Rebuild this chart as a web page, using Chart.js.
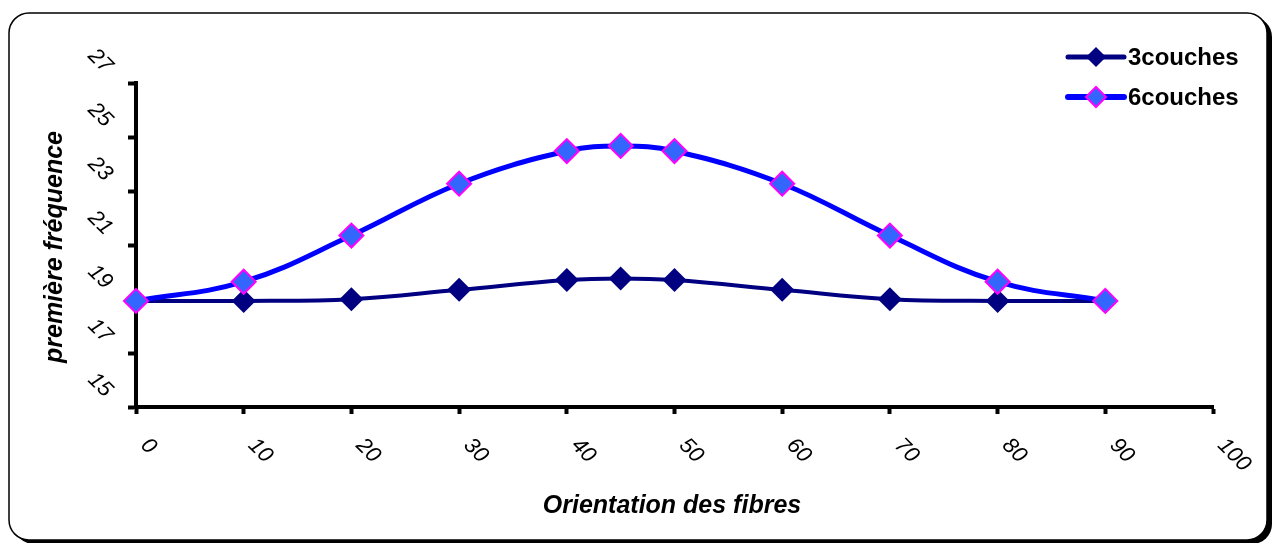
<!DOCTYPE html>
<html>
<head>
<meta charset="utf-8">
<script src="https://cdn.jsdelivr.net/npm/chart.js@4.4.1/dist/chart.umd.min.js"></script>
<style>
  html, body { margin: 0; padding: 0; background: #fff; }
  #wrap { width: 1274px; height: 543px; position: relative; }
</style>
</head>
<body>
<div id="wrap"><canvas id="myChart"></canvas></div>
<script>
// données
const orientations = [0, 10, 20, 30, 40, 45, 50, 60, 70, 80, 90];
const couches3 = [18.93, 18.93, 18.99, 19.34, 19.70, 19.76, 19.70, 19.34, 18.99, 18.93, 18.93];
const couches6 = [18.93, 19.64, 21.35, 23.27, 24.48, 24.67, 24.48, 23.27, 21.35, 19.64, 18.93];
const xTickLabels = [0, 10, 20, 30, 40, 50, 60, 70, 80, 90, 100];
const yTickLabels = [15, 17, 19, 21, 23, 25, 27];
const seriesNames = ['3couches', '6couches'];

const pts = (ys) => orientations.map((x, i) => ({ x: x, y: ys[i] }));

const FONT = '"Liberation Sans", Arial, sans-serif';

function roundRect(ctx, x, y, w, h, r) {
  ctx.beginPath();
  ctx.moveTo(x + r, y);
  ctx.lineTo(x + w - r, y);
  ctx.arcTo(x + w, y, x + w, y + r, r);
  ctx.lineTo(x + w, y + h - r);
  ctx.arcTo(x + w, y + h, x + w - r, y + h, r);
  ctx.lineTo(x + r, y + h);
  ctx.arcTo(x, y + h, x, y + h - r, r);
  ctx.lineTo(x, y + r);
  ctx.arcTo(x, y, x + r, y, r);
  ctx.closePath();
}

const decor = {
  id: 'decor',
  beforeDraw(chart) {
    const ctx = chart.ctx;
    ctx.save();
    ctx.fillStyle = '#fff';
    ctx.fillRect(0, 0, chart.width, chart.height);
    // ombre du cadre
    roundRect(ctx, 14, 17, 1258, 527, 20);
    ctx.fillStyle = '#000';
    ctx.fill();
    roundRect(ctx, 9, 13, 1258, 527, 20);
    ctx.fillStyle = '#fff';
    ctx.fill();
    ctx.lineWidth = 1.5;
    ctx.strokeStyle = '#000';
    ctx.stroke();
    ctx.restore();
  },
  afterDraw(chart) {
    const ctx = chart.ctx;
    const xs = chart.scales.x, ys = chart.scales.y;
    const area = chart.chartArea;
    ctx.save();
    ctx.fillStyle = '#000';

    // étiquettes de l'axe X (inclinées)
    ctx.font = 'italic 22px ' + FONT;
    ctx.textAlign = 'left';
    ctx.textBaseline = 'middle';
    xTickLabels.forEach(v => {
      const px = xs.getPixelForValue(v);
      ctx.save();
      ctx.translate(px + 8, area.bottom + 35);
      ctx.rotate(Math.PI / 4);
      ctx.fillText(String(v), 0, 0);
      ctx.restore();
    });

    // étiquettes de l'axe Y (inclinées)
    ctx.textAlign = 'center';
    yTickLabels.forEach(v => {
      const py = ys.getPixelForValue(v);
      ctx.save();
      ctx.translate(area.left - 36, py - 22);
      ctx.rotate(Math.PI / 4);
      ctx.fillText(String(v), 0, 0);
      ctx.restore();
    });

    // titres des axes
    ctx.font = 'bold italic 25px ' + FONT;
    ctx.textAlign = 'center';
    ctx.fillText('Orientation des fibres', 672, 506);
    ctx.save();
    ctx.translate(55, 247);
    ctx.rotate(-Math.PI / 2);
    ctx.fillText('première fréquence', 0, 0);
    ctx.restore();

    // légende
    ctx.font = 'bold 24px ' + FONT;
    ctx.textAlign = 'left';
    chart.data.datasets.forEach((ds, i) => {
      const y = 57 + i * 40;
      const r = 10;
      ctx.beginPath();
      ctx.moveTo(1068, y);
      ctx.lineTo(1124, y);
      ctx.lineWidth = ds.borderWidth + 1;
      ctx.strokeStyle = ds.borderColor;
      ctx.lineCap = 'round';
      ctx.stroke();
      ctx.fillStyle = ds.pointBackgroundColor;
      ctx.strokeStyle = ds.pointBorderColor;
      ctx.lineWidth = ds.pointBorderWidth;
      ctx.beginPath();
      ctx.moveTo(1096 - r, y); ctx.lineTo(1096, y - r);
      ctx.lineTo(1096 + r, y); ctx.lineTo(1096, y + r);
      ctx.closePath();
      ctx.fill();
      if (ds.pointBorderWidth > 0) ctx.stroke();
      ctx.fillStyle = '#000';
      ctx.fillText(ds.label, 1128, y + 1);
    });
    ctx.restore();
  }
};

const ctx = document.getElementById('myChart').getContext('2d');
const chart = new Chart(ctx, {
  type: 'line',
  data: {
    datasets: [{
      label: seriesNames[0],
      data: pts(couches3),
      borderColor: '#000080',
      backgroundColor: '#000080',
      borderWidth: 4,
      pointStyle: 'rectRot',
      pointRadius: 12,
      pointBackgroundColor: '#000080',
      pointBorderColor: '#000080',
      pointBorderWidth: 0,
      tension: 0.4,
      clip: false,
      order: 1
    }, {
      label: seriesNames[1],
      data: pts(couches6),
      borderColor: '#0000FF',
      backgroundColor: '#3366FF',
      borderWidth: 5,
      pointStyle: 'rectRot',
      pointRadius: 12,
      pointBackgroundColor: '#3366FF',
      pointBorderColor: '#FF00FF',
      pointBorderWidth: 2,
      tension: 0.4,
      clip: false,
      order: 0
    }]
  },
  options: {
    responsive: true,
    maintainAspectRatio: false,
    animation: false,
    devicePixelRatio: 1,
    layout: { padding: { top: 83, right: 61, left: 0, bottom: 0 } },
    plugins: { legend: { display: false }, tooltip: { enabled: false } },
    scales: {
      x: {
        type: 'linear',
        min: 0, max: 100,
        ticks: { display: false, stepSize: 10 },
        grid: { drawOnChartArea: false, drawTicks: true, tickLength: 7, tickWidth: 4, tickColor: '#000' },
        border: { display: true, color: '#000', width: 4 },
        afterFit: (s) => { s.height = 136; }
      },
      y: {
        min: 15, max: 27,
        ticks: { display: false, stepSize: 2 },
        grid: { drawOnChartArea: false, drawTicks: true, tickLength: 8, tickWidth: 4, tickColor: '#000' },
        border: { display: true, color: '#000', width: 4 },
        afterFit: (s) => { s.width = 136; }
      }
    }
  },
  plugins: [decor]
});
</script>
</body>
</html>
